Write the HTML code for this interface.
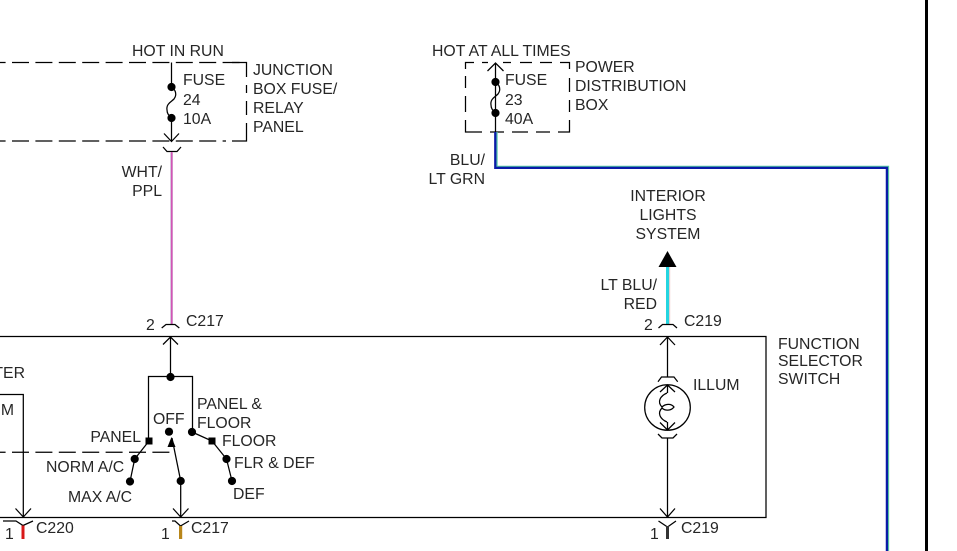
<!DOCTYPE html>
<html>
<head>
<meta charset="utf-8">
<style>
html,body{margin:0;padding:0;background:#fff;width:957px;height:551px;overflow:hidden}
svg{display:block}
text{font-family:"Liberation Sans",Arial,sans-serif;font-size:15.8px;fill:#262626}
.l{fill:none;stroke:#000;stroke-width:1.25}
.e{text-anchor:end}
.m{text-anchor:middle}
</style>
</head>
<body>
<svg width="957" height="551" viewBox="0 0 957 551" xmlns="http://www.w3.org/2000/svg">
<rect width="957" height="551" fill="#fff"/>
<rect x="925" y="0" width="3" height="551" fill="#000"/>

<!-- junction box -->
<path class="l" stroke-dasharray="17 6.4" stroke-dashoffset="11.4" d="M0 62.5H240"/>
<path class="l" d="M232 62.5H246.5V77M246.5 85V93M246.5 101V115M246.5 123V141H232"/>
<path class="l" stroke-dasharray="17 6.4" stroke-dashoffset="11.4" d="M0 141H226"/>
<path class="l" d="M171.5 62.5V87M171.5 118V141M164 133.5L171.5 141.5L179 133.5"/>
<path class="l" stroke-width="1.4" d="M171.5 87C176 90 177 95 174 99C171 102 166 104 167 110C167 113 169 116 171.5 118"/>
<circle cx="171.5" cy="87" r="4.1"/><circle cx="171.5" cy="118" r="4.1"/>
<path class="l" d="M163 147L167 151.5H177L181 147"/>
<rect x="170" y="152" width="3" height="172" fill="#d6c6dc"/>
<rect x="171.2" y="152" width="1.2" height="172" fill="#d238ac"/>

<!-- power distribution -->
<path class="l" d="M465.5 69V62.5H474M482 62.5H488M503 62.5H511M520 62.5H532M540 62.5H552M560 62.5H569.5V69M569.5 78V92M569.5 100V112M569.5 120V132H558M550 132H536M528 132H512M504 132H490M482 132H465.5V120M465.5 112V96M465.5 88V76"/>
<path class="l" d="M495.5 63V132M487.5 71L495.5 63L503.5 71"/>
<path class="l" stroke-width="1.4" d="M495.5 82C500 85 501 90 498 94C495 97 490 99 491 105C491 108 493 111 495.5 113"/>
<circle cx="495.5" cy="82" r="4.1"/><circle cx="495.5" cy="113" r="4.1"/>
<path d="M497 132V166.4H888.5V551" fill="none" stroke="#55c8a4" stroke-width="1.3"/>
<path d="M495.3 132V167.9H886.9V551" fill="none" stroke="#0a1aa8" stroke-width="2.3"/>

<!-- interior lights -->
<path d="M667.5 251L676.5 267H658.5Z" fill="#000"/>
<rect x="666" y="267" width="3.2" height="57" fill="#25d5e0"/>
<rect x="669.2" y="267" width="1" height="57" fill="#f0c8c8"/>
<path class="l" d="M658.5 328L662.5 324.5H673L677 328"/>

<!-- C217 top -->
<path class="l" d="M161.7 328L166 324.5H175L179.3 328"/>

<!-- switch box -->
<path class="l" d="M0 336.5H766V517.5H0"/>
<path class="l" d="M170.5 337V377M163 344.5L170.5 337L178 344.5"/>
<path class="l" d="M148.5 441V376.5H192.5V432"/>
<circle cx="170.5" cy="377" r="4.1"/>
<path class="l" stroke-dasharray="17 6.4" stroke-dashoffset="11.4" d="M0 452.3H172"/>
<path class="l" d="M0 394.5H23.3V517M15.5 508.5L23.3 517L31 508.5"/>
<path class="l" d="M149 441L134.7 459L130 481.5"/>
<rect x="145.5" y="437.5" width="7" height="7"/>
<circle cx="134.7" cy="459" r="4.1"/>
<circle cx="130" cy="481.5" r="4.1"/>
<circle cx="169" cy="431.7" r="4.1"/>
<path class="l" d="M172 438L180.7 481V517M173 508.5L180.7 517L188.5 508.5"/>
<path d="M171.5 437L167.5 447L175.5 447Z" fill="#000"/>
<circle cx="180.7" cy="481" r="4.1"/>
<path class="l" d="M192 432L212 441L226.5 459L232 481"/>
<circle cx="192" cy="432" r="4.1"/>
<rect x="208.5" y="437.5" width="7" height="7"/>
<circle cx="226.5" cy="459" r="4.1"/>
<circle cx="232" cy="481" r="4.1"/>

<!-- illum -->
<path class="l" d="M667.5 337V377M660 345L667.5 337L675 345"/>
<path class="l" d="M658 381.7L661.5 377H674L677.7 381.7"/>
<circle class="l" stroke-width="1.6" cx="667.5" cy="407.5" r="22.8"/>
<path class="l" stroke-width="1.4" d="M667.5 385V393M660 392L667.5 385L675 392M667.5 430V422M660 422.5L667.5 430L675 422.5"/>
<path class="l" stroke-width="1.4" d="M667 393C660 396 657 402 662 407C665 404 671 403 674 407C671 411 665 411 662 408C657 413 660 419 667 422"/>
<path class="l" d="M658 434L662 438H673L677 434"/>
<path class="l" d="M667.5 438V517M660 508.5L667.5 517L675 508.5"/>

<!-- bottom connectors -->
<path class="l" d="M3 521H16L23 525.5L33 521"/>
<rect x="21.5" y="525.5" width="3" height="13.5" fill="#d81818"/>
<path class="l" d="M172 521H175L180.5 526L189 521"/>
<rect x="179" y="526" width="3.2" height="13" fill="#b8861a"/>
<path class="l" d="M658.5 521L667.5 527L676 521"/>
<rect x="666" y="526" width="3" height="13" fill="#333"/>

<!-- text -->
<text x="132" y="56">HOT IN RUN</text>
<text x="183" y="85">FUSE</text>
<text x="183" y="105">24</text>
<text x="183" y="124">10A</text>
<text x="253" y="75">JUNCTION</text>
<text x="253" y="94">BOX FUSE/</text>
<text x="253" y="113">RELAY</text>
<text x="253" y="132">PANEL</text>
<text x="162" y="177" class="e">WHT/</text>
<text x="162" y="196" class="e">PPL</text>

<text x="432" y="56">HOT AT ALL TIMES</text>
<text x="505" y="85">FUSE</text>
<text x="505" y="105">23</text>
<text x="505" y="124">40A</text>
<text x="575" y="72">POWER</text>
<text x="575" y="91">DISTRIBUTION</text>
<text x="575" y="110">BOX</text>
<text x="485" y="165" class="e">BLU/</text>
<text x="485" y="184" class="e">LT GRN</text>

<text x="668" y="201" class="m">INTERIOR</text>
<text x="668" y="220" class="m">LIGHTS</text>
<text x="668" y="239" class="m">SYSTEM</text>
<text x="657" y="290" class="e">LT BLU/</text>
<text x="657" y="309" class="e">RED</text>
<text x="146" y="330">2</text>
<text x="186" y="326">C217</text>
<text x="644" y="330">2</text>
<text x="684" y="326">C219</text>
<text x="778" y="349">FUNCTION</text>
<text x="778" y="366">SELECTOR</text>
<text x="778" y="384">SWITCH</text>
<text x="693" y="390">ILLUM</text>
<text x="25" y="378" class="e">TER</text>
<text x="14" y="415" class="e">M</text>
<text x="197" y="409">PANEL &amp;</text>
<text x="197" y="428">FLOOR</text>
<text x="222" y="446">FLOOR</text>
<text x="234" y="468">FLR &amp; DEF</text>
<text x="233" y="499">DEF</text>
<text x="153" y="424">OFF</text>
<text x="141" y="442" class="e">PANEL</text>
<text x="46" y="472">NORM A/C</text>
<text x="68" y="502">MAX A/C</text>
<text x="36" y="533">C220</text>
<text x="5" y="539">1</text>
<text x="191" y="533">C217</text>
<text x="161" y="539">1</text>
<text x="650" y="539">1</text>
<text x="681" y="533">C219</text>
</svg>
</body>
</html>
